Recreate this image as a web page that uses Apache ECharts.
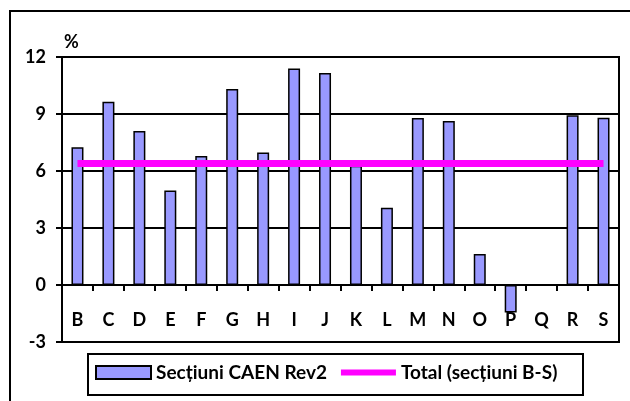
<!DOCTYPE html>
<html>
<head>
<meta charset="utf-8">
<script src="https://cdn.jsdelivr.net/npm/echarts@6/dist/echarts.min.js"></script>
<style>html,body{margin:0;padding:0;background:#fff;}#c{width:630px;height:401px;}</style>
</head>
<body>
<div id="c"></div>
<script>
var categories = ['B','C','D','E','F','G','H','I','J','K','L','M','N','O','P','Q','R','S'];
var sectionValues = [7.25, 9.65, 8.1, 4.97, 6.79, 10.32, 6.98, 11.4, 11.16, 6.28, 4.07, 8.79, 8.63, 1.63, -1.45, 0, 8.93, 8.8];
var totalValues = [6.39, 6.39, 6.39, 6.39, 6.39, 6.39, 6.39, 6.39, 6.39, 6.39, 6.39, 6.39, 6.39, 6.39, 6.39, 6.39, 6.39, 6.39];
var seriesNames = ['Secțiuni CAEN Rev2', 'Total (secțiuni B-S)'];
var yMin = -3, yMax = 12, yStep = 3;

var FONT = 'Lato';
var chart = echarts.init(document.getElementById('c'), null, {renderer: 'canvas'});
chart.setOption({
  animation: false,
  textStyle: {fontFamily: FONT},
  grid: {left: 62, right: 11, top: 57, bottom: 59, show: true, borderColor: '#000', borderWidth: 2, backgroundColor: 'transparent'},
  xAxis: {
    type: 'category',
    data: categories,
    axisLine: {onZero: true, lineStyle: {color: '#000', width: 2}},
    axisTick: {show: true, length: 6, lineStyle: {color: '#000', width: 2}},
    axisLabel: {color: '#000', fontFamily: FONT, fontWeight: 'bold', fontSize: 18, margin: -31, interval: 0}
  },
  yAxis: {
    type: 'value',
    min: yMin, max: yMax, interval: yStep,
    name: '%',
    nameLocation: 'end',
    nameGap: 6,
    nameTextStyle: {color: '#000', fontFamily: FONT, fontWeight: 'bold', fontSize: 18, align: 'left', padding: [0, 0, 0, 2]},
    axisLine: {show: true, lineStyle: {color: '#000', width: 2}},
    axisTick: {show: true, length: 6, lineStyle: {color: '#000', width: 2}},
    splitLine: {show: true, lineStyle: {color: '#000', width: 2}},
    axisLabel: {color: '#000', fontFamily: FONT, fontWeight: 'bold', fontSize: 18, margin: 16}
  },
  legend: {
    left: 95, top: 363, padding: 0, itemGap: 14,
    itemWidth: 55, itemHeight: 13,
    textStyle: {color: '#000', fontFamily: FONT, fontWeight: 'bold', fontSize: 19},
    data: [
      {name: seriesNames[0], icon: 'rect'},
      {name: seriesNames[1], icon: 'path://M0,0h53v6h-53z', itemStyle: {color: '#FF00FF', borderWidth: 0}}
    ]
  },
  graphic: [
    {type: 'rect', shape: {x: 10, y: 11, width: 660, height: 420}, style: {fill: 'none', stroke: '#000', lineWidth: 2}, silent: true},
    {type: 'rect', shape: {x: 88, y: 354, width: 495, height: 41}, style: {fill: 'none', stroke: '#000', lineWidth: 2}, silent: true}
  ],
  series: [
    {
      name: seriesNames[0], type: 'bar', data: sectionValues, barWidth: 12,
      itemStyle: {color: '#9999FF', borderColor: '#000', borderWidth: 1.5}
    },
    {
      name: seriesNames[1], type: 'line', data: totalValues, symbol: 'none', showSymbol: false,
      lineStyle: {color: '#FF00FF', width: 7}, itemStyle: {color: '#FF00FF'}, z: 5
    }
  ]
});
</script>
</body>
</html>
